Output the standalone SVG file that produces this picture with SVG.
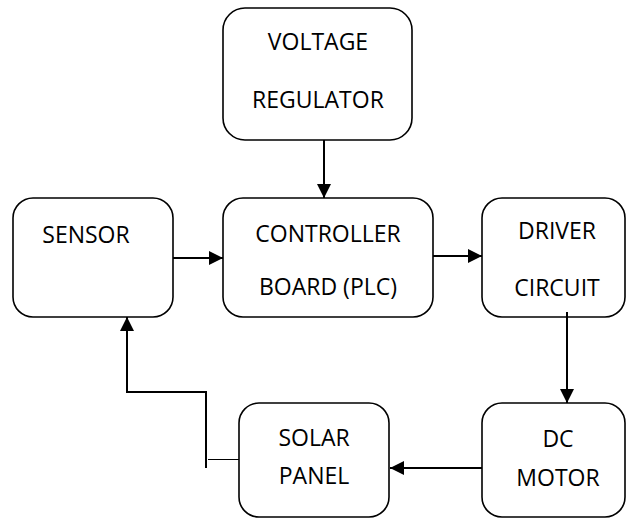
<svg xmlns="http://www.w3.org/2000/svg" width="627" height="519" viewBox="0 0 627 519">
<defs>
<style>
.box{fill:#fff;stroke:#000;stroke-width:1.6}
.lbl{font-family:"Open Sans","Liberation Sans",sans-serif;font-size:23px;fill:#000;text-anchor:middle}
.c{fill:none;stroke:#000;stroke-width:2}
.t{fill:none;stroke:#000;stroke-width:1}
</style>
<marker id="ah" viewBox="0 0 10 10" refX="10" refY="5" markerWidth="7" markerHeight="7" orient="auto" markerUnits="strokeWidth">
<path d="M0,0 L10,5 L0,10 Z" fill="#000"/>
</marker>
</defs>
<rect width="627" height="519" fill="#fff"/>
<g id="voltage-regulator">
<rect class="box" x="223" y="8" width="189" height="132" rx="22"/>
<text class="lbl" x="318" y="50">VOLTAGE</text>
<text class="lbl" x="318" y="108">REGULATOR</text>
</g>
<g id="sensor">
<rect class="box" x="13" y="198" width="160" height="119" rx="20"/>
<text class="lbl" x="86" y="243">SENSOR</text>
</g>
<g id="controller">
<rect class="box" x="223" y="198" width="210" height="119" rx="20"/>
<text class="lbl" x="328" y="242">CONTROLLER</text>
<text class="lbl" x="328" y="295">BOARD (PLC)</text>
</g>
<g id="driver">
<rect class="box" x="482" y="198" width="143" height="119" rx="20"/>
<text class="lbl" x="557" y="239">DRIVER</text>
<text class="lbl" x="557" y="296">CIRCUIT</text>
</g>
<g id="dc-motor">
<rect class="box" x="482" y="403" width="143" height="114" rx="20"/>
<text class="lbl" x="558" y="447">DC</text>
<text class="lbl" x="558" y="486">MOTOR</text>
</g>
<g id="solar-panel">
<rect class="box" x="239" y="403" width="150" height="114" rx="20"/>
<text class="lbl" x="314" y="446">SOLAR</text>
<text class="lbl" x="314" y="484">PANEL</text>
</g>
<g id="connectors">
<line class="c" x1="324" y1="140" x2="324" y2="198" marker-end="url(#ah)"/>
<line class="c" x1="173" y1="258" x2="223" y2="258" marker-end="url(#ah)"/>
<line class="c" x1="433" y1="256" x2="482" y2="256" marker-end="url(#ah)"/>
<line class="c" x1="567" y1="312" x2="567" y2="403" marker-end="url(#ah)"/>
<line class="c" x1="482" y1="468" x2="390" y2="468" marker-end="url(#ah)"/>
<line class="t" x1="208" y1="459.5" x2="239" y2="459.5"/>
<polyline class="c" points="206,468 206,392 127,392 127,317" marker-end="url(#ah)"/>
</g>
</svg>
